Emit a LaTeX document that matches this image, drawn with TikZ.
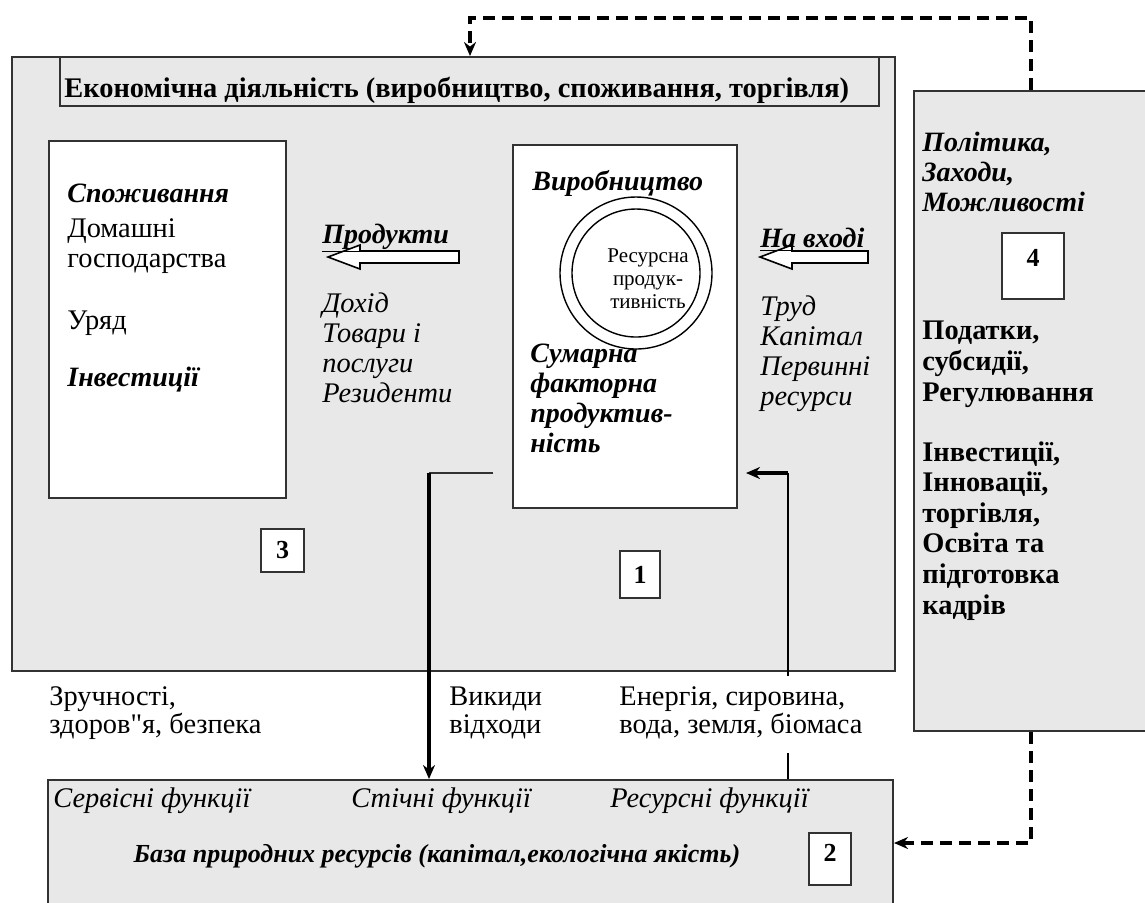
\documentclass[tikz,border=0pt]{standalone}
\usepackage{fontspec}
\setmainfont{Liberation Serif}
\usetikzlibrary{arrows.meta,fit}
\definecolor{bg}{RGB}{232,232,232}
\definecolor{ln}{RGB}{50,50,50}
\begin{document}
\begin{tikzpicture}
[x=.5pt,y=-.5pt, bx/.style={draw=ln,line width=1pt,inner sep=0pt}, gr/.style={bx,fill=bg}, wb/.style={bx,fill=white},
 t/.style={anchor=base west,inner sep=0pt,align=left,font=\fontsize{14.2}{15}\selectfont},
 ti/.style={t,font=\fontsize{14.2}{15}\selectfont\itshape}, tb/.style={t,font=\fontsize{14.2}{15.3}\selectfont\bfseries},
 tbi/.style={t,font=\fontsize{14}{15}\selectfont\bfseries\itshape},
 nt/.style={inner sep=0pt,font=\fontsize{13}{13}\selectfont\bfseries},
 dsh/.style={line width=1.7pt,dash pattern=on 6pt off 3.5pt,-{Stealth[length=7pt,width=6pt]}},
 ar/.style={line width=1.6pt,-{Stealth[length=7pt,width=6pt]}}]
\clip(0,0) rectangle (1145,902);
\fill[white](0,0) rectangle (1145,902);
% boxes
\node(eco)[gr,fit={(12,57)(895,671)}]{};
\node(tbx)[bx,fit={(60,57)(879,106)}]{};
\node(cons)[wb,fit={(49,141)(286,498)}]{};
\node(prod)[wb,fit={(513,145)(737,508)}]{};
\node(pol)[gr,fit={(914,91)(1175,731)}]{};
\node(base)[gr,fit={(48,780)(893,940)}]{};
\node(b3)[wb,fit={(261,529)(304,572)}]{};\node(l3)[nt] at (b3){3};
\node(b1)[wb,fit={(620,551)(660,598)}]{};\node(l1)[nt] at (b1){1};
\node(b4)[wb,fit={(1002,233)(1064,299)}]{};\node(l4)[nt] at (1033,258){4};
\node(b2)[wb,fit={(809,833)(851,885)}]{};\node(l2)[nt] at (830,853){2};
\node(oc)[circle,draw,line width=.7pt,minimum size=76pt] at (636,273){};
\node(ic)[circle,draw,line width=.7pt,minimum size=64pt] at (636,273){};
% block arrows
\draw[fill=white,line width=.8pt](459,251)--(360,251)--(360,245)--(328,257)--(360,269)--(360,263)--(459,263)--cycle;
\draw[fill=white,line width=.8pt](868,251)--(792,251)--(792,245)--(760,257)--(792,269)--(792,263)--(868,263)--cycle;
% texts (multi-line: placed at the last baseline)
\node(tit)[tb] at (64,97){Економічна діяльність (виробництво, споживання, торгівля)};
\node(spo)[tbi] at (67,202){Споживання};\node(hh)[t] at (67,267){Домашні\\господарства};
\node(gov)[t] at (67,329){Уряд};\node(inv)[tbi] at (67,386){Інвестиції};
\node(pr)[tbi] at (322,243){\underline{Продукти}};\node(inc)[ti] at (322,402){Дохід\\Товари і\\послуги\\Резиденти};
\node(vyr)[tbi] at (532,190){Виробництво};
\node(rp)[inner sep=0pt,anchor=base,align=center,font=\fontsize{10.5}{11.5}\selectfont] at (648,308){Ресурсна\\продук-\\тивність};
\node(tfp)[tbi] at (530,452){Сумарна\\факторна\\продуктив-\\ність};
\node(inp)[tbi] at (760,247){\underline{На вході}};\node(lab)[ti] at (760,405){Труд\\Капітал\\Первинні\\ресурси};
\node(plc)[tbi] at (922,211){Політика,\\Заходи,\\Можливості};
\node(tax)[tb] at (922,401){Податки,\\субсидії,\\Регулювання};
\node(inn)[tb] at (922,614){Інвестиції,\\Інновації,\\торгівля,\\Освіта та\\підготовка\\кадрів};
\node(amen)[t,font=\fontsize{14.2}{14}\selectfont] at (49,733){Зручності,\\здоров\textquotedbl я, безпека};
\node(wst)[t,font=\fontsize{14.2}{14}\selectfont] at (449,733){Викиди\\відходи};
\node(en)[t,font=\fontsize{14.2}{14}\selectfont] at (619,733){Енергія, сировина,\\вода, земля, біомаса};
\node(sf)[ti] at (53,807){Сервісні функції};\node(stf)[ti] at (351,807){Стічні функції};\node(rf)[ti] at (610,807){Ресурсні функції};
\node(bz)[tbi,anchor=base,font=\fontsize{13}{13}\selectfont\bfseries\itshape] at (437,862){База природних ресурсів (капітал,екологічна якість)};
% connectors
\coordinate(d1) at (1031,18);\coordinate(d2) at (470,18);\coordinate(d3) at (1031,843);
\draw[dsh](pol.north -| d1)--(d1)--(d2)--(eco.north -| d2);
\draw[dsh](pol.south -| d3)--(d3)--(base.east |- d3);
\coordinate(w1) at (493,473);\coordinate(w2) at (429,473);
\draw[line width=.8pt,ln](w1)--(w2);\draw[ar](w2)--(base.north -| w2);
\coordinate(r1) at (788,473);\coordinate(r2) at (788,753);\coordinate(r3) at (788,676);
\draw[line width=.8pt](base.north -| r1)--(r2);\draw[line width=.8pt](r3)--(r1);
\draw[ar,shorten >=4pt](r1)--(prod.east |- r1);
\end{tikzpicture}
\end{document}
